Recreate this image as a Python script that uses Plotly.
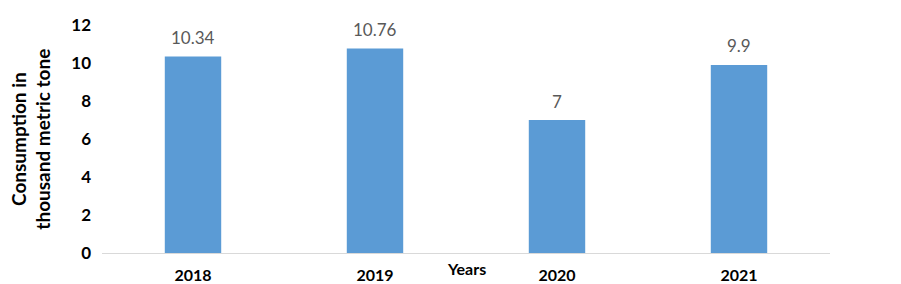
import plotly.graph_objects as go

years = ["2018", "2019", "2020", "2021"]
values = [10.34, 10.76, 7, 9.9]
labels = ["10.34", "10.76", "7", "9.9"]

fig = go.Figure()
fig.add_trace(go.Bar(
    x=years, y=values,
    marker=dict(color="#5B9BD5", line=dict(width=0)),
    width=0.31,
))

annotations = [
    dict(x=i, y=v, text=lab, xref="x", yref="y", yshift=19, showarrow=False,
         xanchor="center", yanchor="middle",
         font=dict(family="Lato", size=17, color="#595959"))
    for i, (v, lab) in enumerate(zip(values, labels))
]
annotations += [
    dict(text="Consumption in<br>thousand metric tone", textangle=-90,
         xref="paper", yref="paper", x=-0.098, y=0.5, xanchor="center", yanchor="middle",
         showarrow=False, font=dict(family="Lato", size=19, color="#000000", weight="bold")),
    dict(text="Years", xref="paper", yref="paper", x=0.5, y=0, yshift=-15,
         xanchor="center", yanchor="middle", showarrow=False,
         font=dict(family="Lato", size=16, color="#000000", weight="bold")),
]

fig.update_layout(
    width=901, height=284,
    margin=dict(l=102, r=71, t=25, b=31, autoexpand=False),
    paper_bgcolor="white", plot_bgcolor="white",
    showlegend=False,
    font=dict(family="Lato", color="#000000"),
    xaxis=dict(
        type="category", categoryorder="array", categoryarray=years,
        range=[-0.5, len(years) - 0.5],
        showgrid=False, showline=True, linecolor="#D9D9D9", linewidth=1,
        ticks="", tickfont=dict(family="Lato", size=16, color="#000000", weight="bold"),
        ticklabelstandoff=8, automargin=False,
    ),
    yaxis=dict(
        range=[0, 12], dtick=2, showgrid=False, zeroline=False, showline=False,
        ticks="", tickfont=dict(family="Lato", size=17, color="#000000", weight="bold"),
        ticklabelstandoff=10, automargin=False,
    ),
    annotations=annotations,
)

fig.write_html("out.html")
